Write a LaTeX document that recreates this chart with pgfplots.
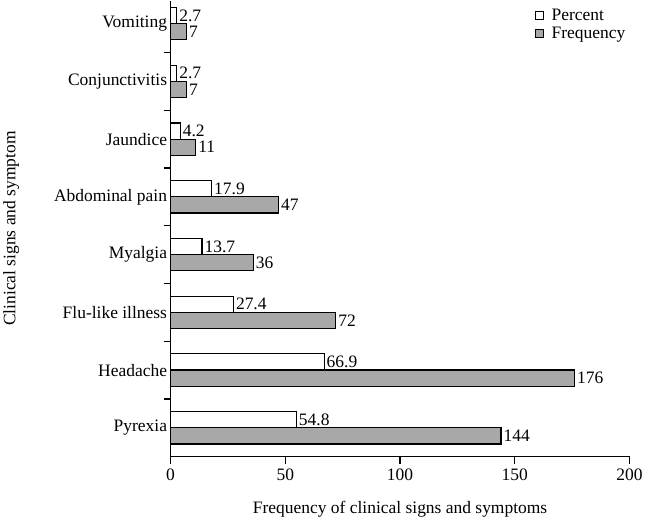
\documentclass[border=0pt]{standalone}
\usepackage{pgfplots}
\pgfplotsset{compat=1.18}
\usepackage{fontspec}
\setmainfont{Liberation Serif}
\definecolor{bargray}{RGB}{168,168,168}
\begin{document}
\begin{tikzpicture}[font=\fontsize{17.5}{21}\selectfont]
\begin{axis}[
  scale only axis, width=460pt, height=457pt,
  xbar, bar width=0.28, axis on top,
  xmin=0, xmax=200, ymin=-0.5, ymax=7.4,
  axis x line*=bottom, axis y line*=left,
  axis line style={line width=1.2pt, -},
  xtick={0,50,100,150,200},
  ytick={0.5,1.5,...,6.5}, yticklabels={},
  extra y ticks={0,...,7},
  extra y tick labels={Pyrexia,Headache,Flu-like illness,Myalgia,Abdominal pain,Jaundice,Conjunctivitis,Vomiting},
  extra y tick style={major tick length=0pt},
  tick style={line width=1.2pt, black},
  tick align=outside, major tick length=7pt,
  xticklabel style={yshift=-2pt},
  /pgf/number format/assume math mode=true,
  xlabel={Frequency of clinical signs and symptoms},
  ylabel={Clinical signs and symptom},
  every axis y label/.style={at={(axis description cs:-0.372,0.5)}, rotate=90, anchor=north},
  xlabel style={yshift=-13pt},
  nodes near coords, every node near coord/.append style={anchor=west, inner sep=2pt, font=\fontsize{17.5}{21}\selectfont},
  legend style={at={(1,1)}, anchor=north east, draw=none, fill=none, font=\fontsize{17.5}{21}\selectfont, xshift=-2pt, yshift=-6pt, row sep=3pt, inner sep=1pt, nodes={inner sep=1pt}},
  legend cell align=left,
  legend image code/.code={\draw[#1, line width=1.2pt] (0pt,-4pt) rectangle (8pt,4pt); \path (15pt,0pt);},
]
\addplot[draw=black, line width=1.2pt, fill=white, bar shift=0.14] coordinates {
  (54.8,0) (66.9,1) (27.4,2) (13.7,3) (17.9,4) (4.2,5) (2.7,6) (2.7,7)
};
\addplot[draw=black, line width=1.2pt, fill=bargray, bar shift=-0.14] coordinates {
  (144,0) (176,1) (72,2) (36,3) (47,4) (11,5) (7,6) (7,7)
};
\legend{Percent, Frequency}
\end{axis}
\end{tikzpicture}
\end{document}
